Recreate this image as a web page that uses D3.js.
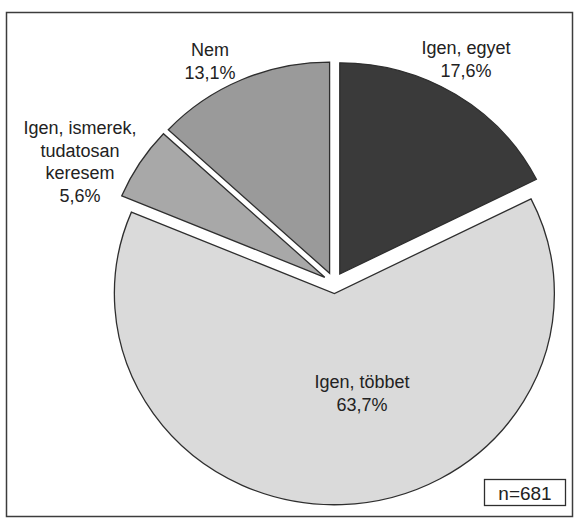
<!DOCTYPE html>
<html>
<head>
<meta charset="utf-8">
<script src="https://cdn.jsdelivr.net/npm/d3@7"></script>
<style>
  html, body { margin: 0; padding: 0; background: #fff; }
  svg { display: block; }
  text { font-family: "Liberation Sans", Arial, sans-serif; fill: #222; }
</style>
</head>
<body>
<svg id="chart" width="577" height="518"></svg>
<script>
// Answer shares (%), clockwise from 12 o'clock
const categories = ["Igen, egyet", "Igen, többet", "Igen, ismerek, tudatosan keresem", "Nem"];
const values = [17.6, 63.7, 5.6, 13.1];
const labelLines = [
  ["Igen, egyet", "17,6%"],
  ["Igen, többet", "63,7%"],
  ["Igen, ismerek,", "tudatosan", "keresem", "5,6%"],
  ["Nem", "13,1%"]
];
const fills = ["#3a3a3a", "#dadada", "#a8a8a8", "#9a9a9a"];
const sampleNote = "n=681";

const W = 577, H = 518;
const cx = 334, cy = 283, R = 220, squash = 0.96, explode = 11;

// label anchor (centre of first line) for each slice
const labelPos = [[466, 48], [362, 382], [80, 128], [210, 50]];
const lineGap = 22.5;

const svg = d3.select("#chart");

// outer frame
svg.append("rect")
  .attr("x", 6.5).attr("y", 12.5)
  .attr("width", 566).attr("height", 504)
  .attr("fill", "none").attr("stroke", "#3c3c3c").attr("stroke-width", 1.5);

const pie = d3.pie().sort(null).value(d => d)(values);
const arc = d3.arc().innerRadius(0).outerRadius(R);

const g = svg.append("g")
  .attr("transform", `translate(${cx},${cy}) scale(1,${squash})`);

g.selectAll("path.slice")
  .data(pie)
  .join("path")
  .attr("class", "slice")
  .attr("d", arc)
  .attr("transform", d => {
    const mid = (d.startAngle + d.endAngle) / 2;
    return `translate(${Math.sin(mid) * explode},${-Math.cos(mid) * explode})`;
  })
  .attr("fill", (d, i) => fills[i])
  .attr("stroke", "#2e2e2e")
  .attr("stroke-width", 1.3)
  .attr("stroke-linejoin", "miter")
  .attr("vector-effect", "non-scaling-stroke");

// slice labels
const labels = svg.append("g");
labelLines.forEach((lines, i) => {
  const t = labels.append("text")
    .attr("text-anchor", "middle")
    .attr("font-size", 18);
  lines.forEach((ln, k) => {
    t.append("tspan")
      .attr("x", labelPos[i][0])
      .attr("y", labelPos[i][1] + k * lineGap)
      .attr("dy", "0.35em")
      .text(ln);
  });
});

// sample size box
const nb = svg.append("g");
nb.append("rect")
  .attr("x", 484.5).attr("y", 479.5)
  .attr("width", 81).attr("height", 26)
  .attr("fill", "#fff").attr("stroke", "#2e2e2e").attr("stroke-width", 1.3);
nb.append("text")
  .attr("x", 525).attr("y", 493)
  .attr("dy", "0.35em")
  .attr("text-anchor", "middle")
  .attr("font-family", "'DejaVu Sans', Verdana, sans-serif")
  .attr("font-size", 19)
  .text(sampleNote);
</script>
</body>
</html>
